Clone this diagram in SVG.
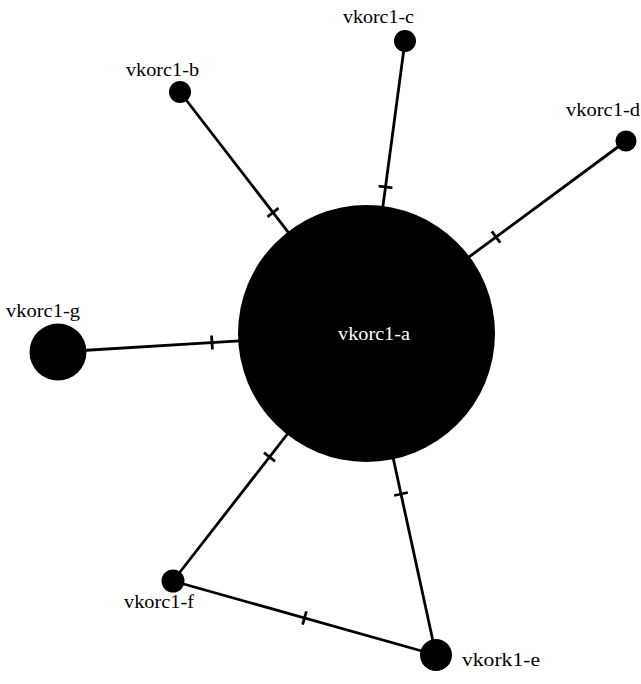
<svg xmlns="http://www.w3.org/2000/svg" width="641" height="684" viewBox="0 0 641 684">
<style>
.edge{stroke:#000;stroke-width:2.8;fill:none}
.tick{stroke:#000;stroke-width:2.8;fill:none}
.node{fill:#000}
.lbl{fill:#000}
.lblw{fill:#fff}
</style>
<rect width="641" height="684" fill="#fff"/>
<g id="connectors">
<line class="edge" x1="180" y1="92" x2="366" y2="333"/>
<line class="edge" x1="405" y1="41" x2="366" y2="333"/>
<line class="edge" x1="626" y1="141" x2="366" y2="333"/>
<line class="edge" x1="58" y1="352" x2="366" y2="333"/>
<line class="edge" x1="173" y1="581" x2="366" y2="333"/>
<line class="edge" x1="436" y1="655" x2="366" y2="333"/>
<line class="edge" x1="173" y1="581" x2="436" y2="655"/>
<line class="tick" x1="278.5" y1="208.2" x2="267.5" y2="216.8"/>
<line class="tick" x1="378.6" y1="186.1" x2="392.4" y2="187.9"/>
<line class="tick" x1="491.8" y1="231.4" x2="500.2" y2="242.6"/>
<line class="tick" x1="211.6" y1="335.5" x2="212.4" y2="349.5"/>
<line class="tick" x1="264" y1="452.7" x2="275" y2="461.3"/>
<line class="tick" x1="394.2" y1="495.5" x2="407.8" y2="492.5"/>
<line class="tick" x1="306.4" y1="611.3" x2="302.6" y2="624.7"/>
</g>
<g font-family="Liberation Serif, DejaVu Serif, serif" font-size="19">
<g id="vkorc1-a">
<circle class="node" cx="366.5" cy="333.5" r="128.5"/>
<text class="lblw" x="338" y="340" textLength="72" lengthAdjust="spacingAndGlyphs">vkorc1-a</text>
</g>
<g id="vkorc1-b">
<circle class="node" cx="180" cy="92" r="11"/>
<text class="lbl" x="126" y="76" textLength="73" lengthAdjust="spacingAndGlyphs">vkorc1-b</text>
</g>
<g id="vkorc1-c">
<circle class="node" cx="405" cy="41" r="11"/>
<text class="lbl" x="343" y="23" textLength="71" lengthAdjust="spacingAndGlyphs">vkorc1-c</text>
</g>
<g id="vkorc1-d">
<circle class="node" cx="626" cy="141" r="10.5"/>
<text class="lbl" x="566" y="116" textLength="74" lengthAdjust="spacingAndGlyphs">vkorc1-d</text>
</g>
<g id="vkorc1-g">
<circle class="node" cx="58" cy="352" r="28.5"/>
<text class="lbl" x="6" y="317" textLength="74" lengthAdjust="spacingAndGlyphs">vkorc1-g</text>
</g>
<g id="vkorc1-f">
<circle class="node" cx="173" cy="581" r="11.5"/>
<text class="lbl" x="124" y="608" textLength="70" lengthAdjust="spacingAndGlyphs">vkorc1-f</text>
</g>
<g id="vkork1-e">
<circle class="node" cx="436" cy="655" r="16"/>
<text class="lbl" x="462" y="666" textLength="78" lengthAdjust="spacingAndGlyphs">vkork1-e</text>
</g>
</g>
</svg>
